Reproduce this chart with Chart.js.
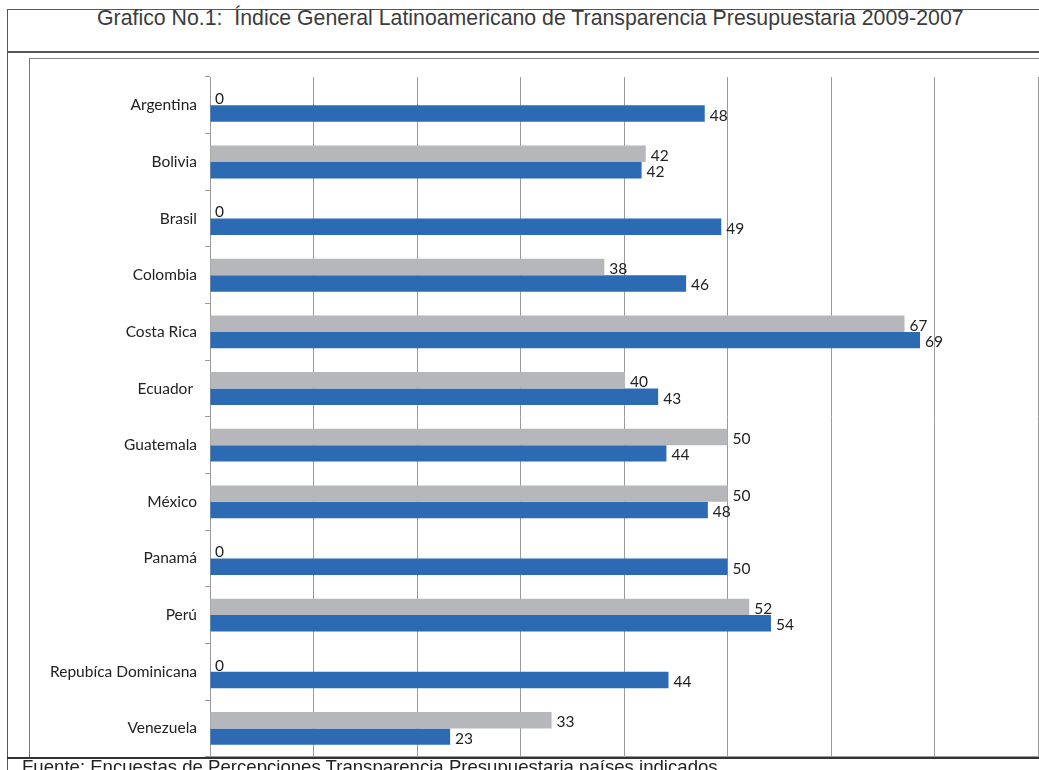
<!DOCTYPE html>
<html>
<head>
<meta charset="utf-8">
<script src="https://cdn.jsdelivr.net/npm/chart.js@4"></script>
<style>
  html, body { margin:0; padding:0; background:#fff; width:1039px; height:770px; overflow:hidden; position:relative; }
  .ln { position:absolute; }
  #title { position:absolute; left:97px; top:6px; font-family:"Liberation Sans", Arial, sans-serif; font-size:21.3px; color:#3c3c3c; white-space:pre; }
  #foot { position:absolute; left:22px; top:756px; font-family:"Liberation Sans", Arial, sans-serif; font-size:18.6px; color:#222; white-space:pre; }
  #c { position:absolute; left:0; top:0; }
</style>
</head>
<body>
<div class="ln" style="left:7px;top:9px;width:1032px;height:1px;background:#555"></div>
<div class="ln" style="left:7px;top:9px;width:1px;height:761px;background:#555"></div>
<div class="ln" style="left:7px;top:51px;width:1032px;height:2px;background:#555"></div>
<div class="ln" style="left:29px;top:58px;width:1010px;height:1px;background:#888"></div>
<div class="ln" style="left:29px;top:58px;width:1px;height:700px;background:#777"></div>
<div id="title">Grafico No.1:  Índice General Latinoamericano de Transparencia Presupuestaria 2009-2007</div>
<canvas id="c" width="1039" height="774"></canvas>
<div class="ln" style="left:7px;top:757px;width:1032px;height:2px;background:#333"></div>
<div id="foot">Fuente: Encuestas de Percepciones Transparencia Presupuestaria países indicados</div>
<script>
const categories = ["Argentina","Bolivia","Brasil","Colombia","Costa Rica","Ecuador ","Guatemala","México","Panamá","Perú","Repubíca Dominicana","Venezuela"];
const series2009 = [0, 42.1, 0, 38.1, 67.1, 40.1, 50, 50, 0, 52.1, 0, 33];
const series2007 = [47.8, 41.7, 49.4, 46, 68.6, 43.3, 44.1, 48.1, 50, 54.2, 44.3, 23.2];
const xTicks = [0, 10, 20, 30, 40, 50, 60, 70, 80];

const labelFont = '15.5px Lato, "Noto Sans", sans-serif';

const labelPlugin = {
  id: 'barLabels',
  afterDatasetsDraw(chart) {
    const ctx = chart.ctx;
    ctx.save();
    ctx.font = labelFont;
    ctx.fillStyle = '#222';
    ctx.textAlign = 'left';
    ctx.textBaseline = 'middle';
    chart.data.datasets.forEach((ds, di) => {
      const meta = chart.getDatasetMeta(di);
      meta.data.forEach((el, i) => {
        const v = ds.data[i];
        ctx.fillText(String(Math.round(v)), el.x + 5, el.y + 2);
      });
    });
    ctx.restore();
  }
};

new Chart(document.getElementById('c'), {
  type: 'bar',
  data: {
    labels: categories,
    datasets: [
      { label: '2009', data: series2009, backgroundColor: '#B6B7BB', categoryPercentage: 0.58, barPercentage: 1.0 },
      { label: '2007', data: series2007, backgroundColor: '#2C6BB3', categoryPercentage: 0.58, barPercentage: 1.0 }
    ]
  },
  options: {
    indexAxis: 'y',
    responsive: false,
    animation: false,
    layout: { padding: { left: 30, top: 77, bottom: 0, right: 1 } },
    plugins: { legend: { display: false }, tooltip: { enabled: false }, title: { display: false } },
    scales: {
      x: {
        min: 0, max: 80,
        afterBuildTicks(scale) { scale.ticks = xTicks.map(v => ({ value: v })); },
        ticks: { display: false },
        grid: { color: '#9a9a9a', drawTicks: false, lineWidth: 1 },
        border: { display: true, color: '#9a9a9a' },
        afterFit(scale) { scale.height = 0; }
      },
      y: {
        ticks: { font: { family: 'Lato, "Noto Sans", sans-serif', size: 15.5 }, color: '#222', padding: 8 },
        grid: { drawOnChartArea: false, tickLength: 5, color: '#9a9a9a' },
        border: { color: '#9a9a9a', width: 1 },
        afterFit(scale) { scale.width = 180; }
      }
    }
  },
  plugins: [labelPlugin]
});
</script>
</body>
</html>
